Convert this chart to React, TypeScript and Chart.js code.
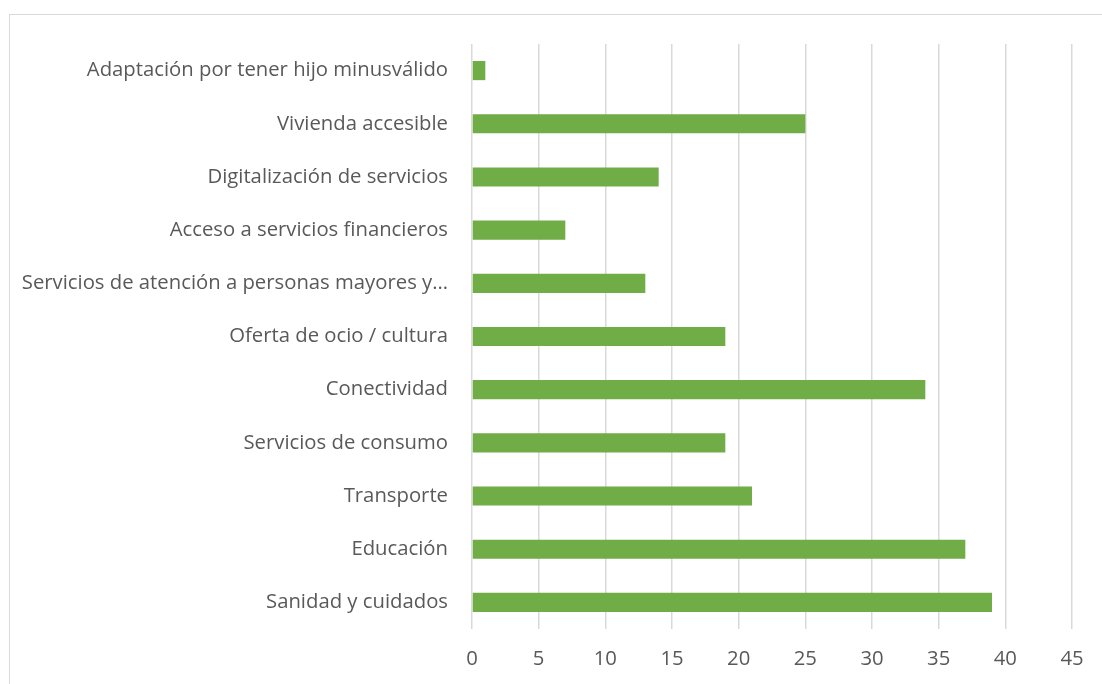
import React, { useEffect, useRef } from "react";
import { Chart, registerables } from "chart.js";

Chart.register(...registerables);

const categories = [
  "Adaptación por tener hijo minusválido",
  "Vivienda accesible",
  "Digitalización de servicios",
  "Acceso a servicios financieros",
  "Servicios de atención a personas mayores y…",
  "Oferta de ocio / cultura",
  "Conectividad",
  "Servicios de consumo",
  "Transporte",
  "Educación",
  "Sanidad y cuidados",
];
const values = [1, 25, 14, 7, 13, 19, 34, 19, 21, 37, 39];
const xMin = 0;
const xMax = 45;
const xStep = 5;

export default function App() {
  const ref = useRef<HTMLCanvasElement | null>(null);
  useEffect(() => {
    if (!ref.current) return;
    const font = { family: "'Open Sans', sans-serif", size: 20.3 };
    const chart = new Chart(ref.current, {
      type: "bar",
      data: {
        labels: categories,
        datasets: [
          {
            data: values,
            backgroundColor: "#70AD47",
            borderWidth: 0,
            categoryPercentage: 1,
            barPercentage: 0.36,
          },
        ],
      },
      options: {
        indexAxis: "y",
        animation: false,
        responsive: false,
        maintainAspectRatio: false,
        layout: { padding: { top: 44, right: 30, left: 0, bottom: 0 } },
        plugins: { legend: { display: false }, tooltip: { enabled: false } },
        scales: {
          x: {
            min: xMin,
            max: xMax,
            ticks: { stepSize: xStep, color: "#595959", font, padding: 18 },
            grid: { color: "#d9d9d9", lineWidth: 1.5, drawTicks: false },
            border: { display: false },
            afterFit: (s: any) => {
              s.height = 55;
            },
          },
          y: {
            ticks: { color: "#595959", font, padding: 24, autoSkip: false },
            grid: { display: false, drawTicks: false },
            border: { display: false },
            afterFit: (s: any) => {
              s.width = 472;
            },
          },
        },
      },
    });
    return () => chart.destroy();
  }, []);
  return (
    <div style={{ position: "fixed", left: 0, top: 0, width: 1102, height: 684, background: "#fff" }}>
      <div
        style={{
          position: "absolute",
          left: 9,
          top: 14,
          right: -10,
          bottom: -10,
          borderTop: "1.5px solid #d9d9d9",
          borderLeft: "1.5px solid #d9d9d9",
        }}
      />
      <canvas ref={ref} width={1102} height={684} style={{ position: "absolute", left: 0, top: 0 }} />
    </div>
  );
}
